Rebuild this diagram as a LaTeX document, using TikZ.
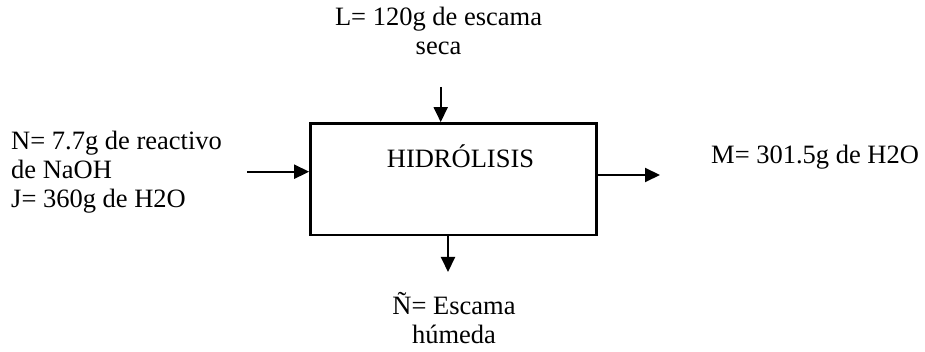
\documentclass[tikz,border=0pt]{standalone}
\usepackage{fontspec}
\setmainfont{Liberation Serif}
\usetikzlibrary{arrows.meta}
\begin{document}
\begin{tikzpicture}[x=1pt,y=-1pt,
  txt/.style={inner sep=0pt,font=\fontsize{26.5}{29}\selectfont},
  flow/.style={line width=2pt,-{Triangle[length=15pt,width=14pt]}}]
\useasboundingbox (0,0) rectangle (925,352);
\node[draw,line width=2.7pt,minimum width=286pt,minimum height=111.5pt,inner sep=0pt] (box) at (453.5,179.2) {};
\node[txt,anchor=base west] (hyd) at (386.7,168) {HIDRÓLISIS};
\node[txt,anchor=base,align=center] (top) at (438.5,55) {L= 120g de escama\\seca};
\node[txt,anchor=base west,align=left] (left) at (11,208) {N= 7.7g de reactivo\\de NaOH\\J= 360g de H2O};
\node[txt,anchor=base west] (right) at (711,163.5) {M= 301.5g de H2O};
\node[txt,anchor=base,align=center] (bot) at (454,343) {Ñ= Escama\\húmeda};
\coordinate (tin) at (440.7,87);
\coordinate (lin) at (247,171.7);
\coordinate (rout) at (660,175);
\coordinate (bout) at (448,272);
\draw[flow] (tin) -- (tin |- box.north);
\draw[flow] (lin) -- (lin -| box.west);
\draw[flow] (rout -| box.east) -- (rout);
\draw[flow] (bout |- box.south) -- (bout);
\end{tikzpicture}
\end{document}
